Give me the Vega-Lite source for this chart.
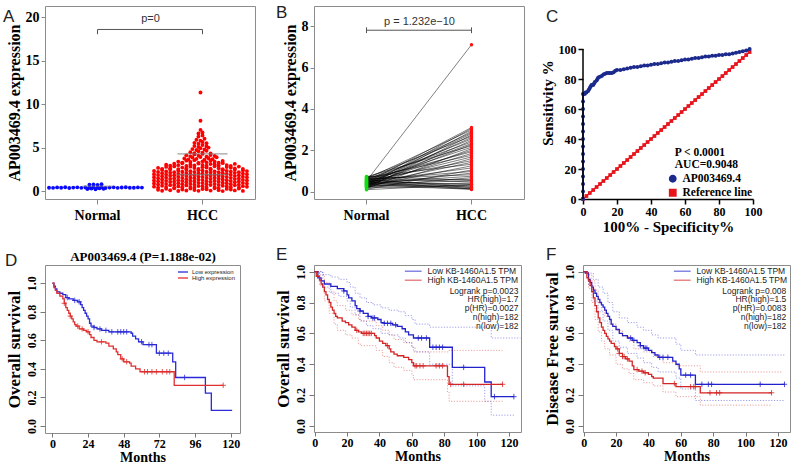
{
"$schema":"https://vega.github.io/schema/vega-lite/v6.json",
"background":"white",
"padding":{"left":2,"top":3,"right":0,"bottom":0},
"bounds":"flush",
"columns":3,
"spacing":{"row":66,"column":59},
"config":{"font":"Liberation Serif","axis":{"grid":false,"labelColor":"#000","titleColor":"#000","labelOverlap":false},"view":{"stroke":"#8c8c8c"}},
"resolve":{"scale":{"color":"independent","shape":"independent"}},
"datasets":{
"a":[
{"g":"Normal","v":0.25},{"g":"Normal","v":0.31},{"g":"Normal","v":0.22},{"g":"Normal","v":0.34},{"g":"Normal","v":0.28},
{"g":"Normal","v":0.40},{"g":"Normal","v":0.38},{"g":"Normal","v":0.43},{"g":"Normal","v":0.39},{"g":"Normal","v":0.45},{"g":"Normal","v":0.37},{"g":"Normal","v":0.41},{"g":"Normal","v":0.44},{"g":"Normal","v":0.38},{"g":"Normal","v":0.42},{"g":"Normal","v":0.40},{"g":"Normal","v":0.46},{"g":"Normal","v":0.39},{"g":"Normal","v":0.43},{"g":"Normal","v":0.37},{"g":"Normal","v":0.41},{"g":"Normal","v":0.44},{"g":"Normal","v":0.38},{"g":"Normal","v":0.42},{"g":"Normal","v":0.45},{"g":"Normal","v":0.40},{"g":"Normal","v":0.39},{"g":"Normal","v":0.43},{"g":"Normal","v":0.41},
{"g":"Normal","v":0.75},{"g":"Normal","v":0.78},{"g":"Normal","v":0.73},{"g":"Normal","v":0.80},
{"g":"HCC","v":0.16},{"g":"HCC","v":0.05},{"g":"HCC","v":0.27},{"g":"HCC","v":0.11},{"g":"HCC","v":0.33},{"g":"HCC","v":0.02},{"g":"HCC","v":0.19},{"g":"HCC","v":0.08},{"g":"HCC","v":0.30},{"g":"HCC","v":0.14},{"g":"HCC","v":0.04},{"g":"HCC","v":0.24},{"g":"HCC","v":0.21},{"g":"HCC","v":0.07},{"g":"HCC","v":0.34},{"g":"HCC","v":0.12},{"g":"HCC","v":0.01},{"g":"HCC","v":0.26},{"g":"HCC","v":0.18},{"g":"HCC","v":0.09},{"g":"HCC","v":0.31},{"g":"HCC","v":0.03},
{"g":"HCC","v":0.52},{"g":"HCC","v":0.41},{"g":"HCC","v":0.63},{"g":"HCC","v":0.47},{"g":"HCC","v":0.69},{"g":"HCC","v":0.38},{"g":"HCC","v":0.55},{"g":"HCC","v":0.44},{"g":"HCC","v":0.66},{"g":"HCC","v":0.50},{"g":"HCC","v":0.40},{"g":"HCC","v":0.60},{"g":"HCC","v":0.57},{"g":"HCC","v":0.43},{"g":"HCC","v":0.70},{"g":"HCC","v":0.48},{"g":"HCC","v":0.37},{"g":"HCC","v":0.62},{"g":"HCC","v":0.54},{"g":"HCC","v":0.45},{"g":"HCC","v":0.67},{"g":"HCC","v":0.39},{"g":"HCC","v":0.58},{"g":"HCC","v":0.51},
{"g":"HCC","v":0.88},{"g":"HCC","v":0.77},{"g":"HCC","v":0.99},{"g":"HCC","v":0.83},{"g":"HCC","v":1.05},{"g":"HCC","v":0.74},{"g":"HCC","v":0.91},{"g":"HCC","v":0.80},{"g":"HCC","v":1.02},{"g":"HCC","v":0.86},{"g":"HCC","v":0.76},{"g":"HCC","v":0.96},{"g":"HCC","v":0.93},{"g":"HCC","v":0.79},{"g":"HCC","v":1.06},{"g":"HCC","v":0.84},{"g":"HCC","v":0.73},{"g":"HCC","v":0.98},{"g":"HCC","v":0.90},{"g":"HCC","v":0.81},{"g":"HCC","v":1.03},{"g":"HCC","v":0.75},{"g":"HCC","v":0.94},{"g":"HCC","v":0.87},
{"g":"HCC","v":1.24},{"g":"HCC","v":1.13},{"g":"HCC","v":1.35},{"g":"HCC","v":1.19},{"g":"HCC","v":1.41},{"g":"HCC","v":1.10},{"g":"HCC","v":1.27},{"g":"HCC","v":1.16},{"g":"HCC","v":1.38},{"g":"HCC","v":1.22},{"g":"HCC","v":1.12},{"g":"HCC","v":1.32},{"g":"HCC","v":1.29},{"g":"HCC","v":1.15},{"g":"HCC","v":1.42},{"g":"HCC","v":1.20},{"g":"HCC","v":1.09},{"g":"HCC","v":1.34},{"g":"HCC","v":1.26},{"g":"HCC","v":1.17},{"g":"HCC","v":1.39},{"g":"HCC","v":1.11},{"g":"HCC","v":1.30},{"g":"HCC","v":1.23},
{"g":"HCC","v":1.60},{"g":"HCC","v":1.49},{"g":"HCC","v":1.71},{"g":"HCC","v":1.55},{"g":"HCC","v":1.77},{"g":"HCC","v":1.46},{"g":"HCC","v":1.63},{"g":"HCC","v":1.52},{"g":"HCC","v":1.74},{"g":"HCC","v":1.58},{"g":"HCC","v":1.48},{"g":"HCC","v":1.68},{"g":"HCC","v":1.65},{"g":"HCC","v":1.51},{"g":"HCC","v":1.78},{"g":"HCC","v":1.56},{"g":"HCC","v":1.45},{"g":"HCC","v":1.70},{"g":"HCC","v":1.62},{"g":"HCC","v":1.53},{"g":"HCC","v":1.75},{"g":"HCC","v":1.47},{"g":"HCC","v":1.66},{"g":"HCC","v":1.59},
{"g":"HCC","v":1.96},{"g":"HCC","v":1.85},{"g":"HCC","v":2.07},{"g":"HCC","v":1.91},{"g":"HCC","v":2.13},{"g":"HCC","v":1.82},{"g":"HCC","v":1.99},{"g":"HCC","v":1.88},{"g":"HCC","v":2.10},{"g":"HCC","v":1.94},{"g":"HCC","v":1.84},{"g":"HCC","v":2.04},{"g":"HCC","v":2.01},{"g":"HCC","v":1.87},{"g":"HCC","v":2.14},{"g":"HCC","v":1.92},{"g":"HCC","v":1.81},{"g":"HCC","v":2.06},{"g":"HCC","v":1.98},{"g":"HCC","v":1.89},{"g":"HCC","v":2.11},{"g":"HCC","v":1.83},{"g":"HCC","v":2.02},{"g":"HCC","v":1.95},
{"g":"HCC","v":2.32},{"g":"HCC","v":2.21},{"g":"HCC","v":2.43},{"g":"HCC","v":2.27},{"g":"HCC","v":2.49},{"g":"HCC","v":2.18},{"g":"HCC","v":2.35},{"g":"HCC","v":2.24},{"g":"HCC","v":2.46},{"g":"HCC","v":2.30},{"g":"HCC","v":2.20},{"g":"HCC","v":2.40},{"g":"HCC","v":2.37},{"g":"HCC","v":2.23},{"g":"HCC","v":2.50},{"g":"HCC","v":2.28},{"g":"HCC","v":2.17},{"g":"HCC","v":2.42},{"g":"HCC","v":2.34},{"g":"HCC","v":2.25},{"g":"HCC","v":2.47},{"g":"HCC","v":2.19},{"g":"HCC","v":2.38},{"g":"HCC","v":2.31},
{"g":"HCC","v":2.68},{"g":"HCC","v":2.57},{"g":"HCC","v":2.79},{"g":"HCC","v":2.63},{"g":"HCC","v":2.85},{"g":"HCC","v":2.54},{"g":"HCC","v":2.71},{"g":"HCC","v":2.60},{"g":"HCC","v":2.82},{"g":"HCC","v":2.66},{"g":"HCC","v":2.56},{"g":"HCC","v":2.76},{"g":"HCC","v":2.73},{"g":"HCC","v":2.59},{"g":"HCC","v":2.86},{"g":"HCC","v":2.64},{"g":"HCC","v":2.53},{"g":"HCC","v":2.78},{"g":"HCC","v":2.70},{"g":"HCC","v":2.61},{"g":"HCC","v":2.83},{"g":"HCC","v":2.55},
{"g":"HCC","v":3.04},{"g":"HCC","v":2.93},{"g":"HCC","v":3.15},{"g":"HCC","v":2.99},{"g":"HCC","v":3.21},{"g":"HCC","v":2.90},{"g":"HCC","v":3.07},{"g":"HCC","v":2.96},{"g":"HCC","v":3.18},{"g":"HCC","v":3.02},{"g":"HCC","v":2.92},{"g":"HCC","v":3.12},{"g":"HCC","v":3.09},{"g":"HCC","v":2.95},{"g":"HCC","v":3.22},{"g":"HCC","v":3.00},{"g":"HCC","v":2.89},{"g":"HCC","v":3.14},
{"g":"HCC","v":3.40},{"g":"HCC","v":3.29},{"g":"HCC","v":3.51},{"g":"HCC","v":3.35},{"g":"HCC","v":3.57},{"g":"HCC","v":3.26},{"g":"HCC","v":3.43},{"g":"HCC","v":3.32},{"g":"HCC","v":3.54},{"g":"HCC","v":3.38},{"g":"HCC","v":3.28},{"g":"HCC","v":3.48},
{"g":"HCC","v":3.76},{"g":"HCC","v":3.65},{"g":"HCC","v":3.87},{"g":"HCC","v":3.71},{"g":"HCC","v":3.93},{"g":"HCC","v":3.62},{"g":"HCC","v":3.79},{"g":"HCC","v":3.68},{"g":"HCC","v":3.90},
{"g":"HCC","v":4.12},{"g":"HCC","v":4.01},{"g":"HCC","v":4.23},{"g":"HCC","v":4.07},{"g":"HCC","v":4.29},{"g":"HCC","v":3.98},{"g":"HCC","v":4.15},{"g":"HCC","v":4.04},
{"g":"HCC","v":4.48},{"g":"HCC","v":4.37},{"g":"HCC","v":4.59},{"g":"HCC","v":4.43},{"g":"HCC","v":4.65},{"g":"HCC","v":4.34},
{"g":"HCC","v":4.84},{"g":"HCC","v":4.73},{"g":"HCC","v":4.95},{"g":"HCC","v":4.79},{"g":"HCC","v":5.01},
{"g":"HCC","v":5.20},{"g":"HCC","v":5.09},{"g":"HCC","v":5.31},{"g":"HCC","v":5.15},
{"g":"HCC","v":5.56},{"g":"HCC","v":5.45},{"g":"HCC","v":5.67},{"g":"HCC","v":5.51},
{"g":"HCC","v":5.92},{"g":"HCC","v":5.81},{"g":"HCC","v":6.03},
{"g":"HCC","v":6.28},{"g":"HCC","v":6.40},{"g":"HCC","v":6.64},{"g":"HCC","v":6.75},{"g":"HCC","v":7.05},{"g":"HCC","v":8.10},{"g":"HCC","v":11.35}
],
"aStat":[{"g":"Normal","m":0.57},{"g":"HCC","m":4.3},{"g":"HCC","m":1.9}],
"b":[
{"id":1,"g":"Normal","v":0.52},{"id":1,"g":"HCC","v":7.10},
{"id":2,"g":"Normal","v":0.45},{"id":2,"g":"HCC","v":3.10},
{"id":3,"g":"Normal","v":0.30},{"id":3,"g":"HCC","v":3.05},
{"id":4,"g":"Normal","v":0.62},{"id":4,"g":"HCC","v":2.98},
{"id":5,"g":"Normal","v":0.25},{"id":5,"g":"HCC","v":2.92},
{"id":6,"g":"Normal","v":0.55},{"id":6,"g":"HCC","v":2.85},
{"id":7,"g":"Normal","v":0.40},{"id":7,"g":"HCC","v":2.80},
{"id":8,"g":"Normal","v":0.18},{"id":8,"g":"HCC","v":2.74},
{"id":9,"g":"Normal","v":0.68},{"id":9,"g":"HCC","v":2.68},
{"id":10,"g":"Normal","v":0.35},{"id":10,"g":"HCC","v":2.62},
{"id":11,"g":"Normal","v":0.50},{"id":11,"g":"HCC","v":2.55},
{"id":12,"g":"Normal","v":0.22},{"id":12,"g":"HCC","v":2.48},
{"id":13,"g":"Normal","v":0.60},{"id":13,"g":"HCC","v":2.40},
{"id":14,"g":"Normal","v":0.42},{"id":14,"g":"HCC","v":2.33},
{"id":15,"g":"Normal","v":0.28},{"id":15,"g":"HCC","v":2.28},
{"id":16,"g":"Normal","v":0.72},{"id":16,"g":"HCC","v":2.22},
{"id":17,"g":"Normal","v":0.48},{"id":17,"g":"HCC","v":2.15},
{"id":18,"g":"Normal","v":0.15},{"id":18,"g":"HCC","v":2.08},
{"id":19,"g":"Normal","v":0.38},{"id":19,"g":"HCC","v":2.00},
{"id":20,"g":"Normal","v":0.58},{"id":20,"g":"HCC","v":1.93},
{"id":21,"g":"Normal","v":0.32},{"id":21,"g":"HCC","v":1.85},
{"id":22,"g":"Normal","v":0.65},{"id":22,"g":"HCC","v":1.76},
{"id":23,"g":"Normal","v":0.44},{"id":23,"g":"HCC","v":1.68},
{"id":24,"g":"Normal","v":0.20},{"id":24,"g":"HCC","v":1.60},
{"id":25,"g":"Normal","v":0.53},{"id":25,"g":"HCC","v":1.50},
{"id":26,"g":"Normal","v":0.36},{"id":26,"g":"HCC","v":1.42},
{"id":27,"g":"Normal","v":0.70},{"id":27,"g":"HCC","v":1.33},
{"id":28,"g":"Normal","v":0.27},{"id":28,"g":"HCC","v":1.25},
{"id":29,"g":"Normal","v":0.47},{"id":29,"g":"HCC","v":1.15},
{"id":30,"g":"Normal","v":0.12},{"id":30,"g":"HCC","v":1.05},
{"id":31,"g":"Normal","v":0.57},{"id":31,"g":"HCC","v":0.98},
{"id":32,"g":"Normal","v":0.33},{"id":32,"g":"HCC","v":0.90},
{"id":33,"g":"Normal","v":0.63},{"id":33,"g":"HCC","v":0.82},
{"id":34,"g":"Normal","v":0.41},{"id":34,"g":"HCC","v":0.75},
{"id":35,"g":"Normal","v":0.24},{"id":35,"g":"HCC","v":0.68},
{"id":36,"g":"Normal","v":0.51},{"id":36,"g":"HCC","v":0.60},
{"id":37,"g":"Normal","v":0.38},{"id":37,"g":"HCC","v":0.53},
{"id":38,"g":"Normal","v":0.66},{"id":38,"g":"HCC","v":0.47},
{"id":39,"g":"Normal","v":0.29},{"id":39,"g":"HCC","v":0.42},
{"id":40,"g":"Normal","v":0.46},{"id":40,"g":"HCC","v":0.37},
{"id":41,"g":"Normal","v":0.19},{"id":41,"g":"HCC","v":0.33},
{"id":42,"g":"Normal","v":0.56},{"id":42,"g":"HCC","v":0.28},
{"id":43,"g":"Normal","v":0.34},{"id":43,"g":"HCC","v":0.24},
{"id":44,"g":"Normal","v":0.60},{"id":44,"g":"HCC","v":0.20},
{"id":45,"g":"Normal","v":0.43},{"id":45,"g":"HCC","v":0.17},
{"id":46,"g":"Normal","v":0.26},{"id":46,"g":"HCC","v":0.15},
{"id":47,"g":"Normal","v":0.50},{"id":47,"g":"HCC","v":0.13},
{"id":48,"g":"Normal","v":0.37},{"id":48,"g":"HCC","v":0.11},
{"id":49,"g":"Normal","v":0.10},{"id":49,"g":"HCC","v":0.35},
{"id":50,"g":"Normal","v":0.74},{"id":50,"g":"HCC","v":0.55}
],
"croc":[
{"s":"AP003469.4","x":0,"y":0},{"s":"AP003469.4","x":0,"y":5},{"s":"AP003469.4","x":0,"y":10},{"s":"AP003469.4","x":0,"y":15},{"s":"AP003469.4","x":0,"y":20},{"s":"AP003469.4","x":0,"y":25},{"s":"AP003469.4","x":0,"y":30},{"s":"AP003469.4","x":0,"y":35},{"s":"AP003469.4","x":0,"y":40},{"s":"AP003469.4","x":0,"y":45},{"s":"AP003469.4","x":0,"y":50},{"s":"AP003469.4","x":0,"y":55},{"s":"AP003469.4","x":0,"y":60},{"s":"AP003469.4","x":0,"y":65},{"s":"AP003469.4","x":0,"y":70},
{"s":"AP003469.4","x":1,"y":70},{"s":"AP003469.4","x":1.5,"y":71},{"s":"AP003469.4","x":2,"y":71},{"s":"AP003469.4","x":3,"y":72},{"s":"AP003469.4","x":3.5,"y":73},{"s":"AP003469.4","x":4,"y":74},{"s":"AP003469.4","x":4.5,"y":75},{"s":"AP003469.4","x":5,"y":76},{"s":"AP003469.4","x":6,"y":76},{"s":"AP003469.4","x":6.5,"y":77},{"s":"AP003469.4","x":7,"y":78},{"s":"AP003469.4","x":8,"y":79},{"s":"AP003469.4","x":8.5,"y":80},{"s":"AP003469.4","x":9,"y":81},{"s":"AP003469.4","x":10,"y":81.5},{"s":"AP003469.4","x":11,"y":82},{"s":"AP003469.4","x":12,"y":83},{"s":"AP003469.4","x":13,"y":83.5},{"s":"AP003469.4","x":14,"y":84},{"s":"AP003469.4","x":15,"y":84},{"s":"AP003469.4","x":16,"y":84},{"s":"AP003469.4","x":17,"y":84},{"s":"AP003469.4","x":18,"y":84.5},{"s":"AP003469.4","x":19,"y":85.5},{"s":"AP003469.4","x":20,"y":86},{"s":"AP003469.4","x":22,"y":86},{"s":"AP003469.4","x":24,"y":86.5},{"s":"AP003469.4","x":26,"y":87},{"s":"AP003469.4","x":28,"y":87.5},{"s":"AP003469.4","x":30,"y":88},{"s":"AP003469.4","x":32,"y":88},{"s":"AP003469.4","x":34,"y":88.5},{"s":"AP003469.4","x":36,"y":89},{"s":"AP003469.4","x":38,"y":89},{"s":"AP003469.4","x":40,"y":89.5},{"s":"AP003469.4","x":42,"y":90},{"s":"AP003469.4","x":44,"y":90},{"s":"AP003469.4","x":46,"y":90.5},{"s":"AP003469.4","x":48,"y":91},{"s":"AP003469.4","x":50,"y":91},{"s":"AP003469.4","x":52,"y":91.5},{"s":"AP003469.4","x":54,"y":92},{"s":"AP003469.4","x":56,"y":92},{"s":"AP003469.4","x":58,"y":92.5},{"s":"AP003469.4","x":60,"y":93},{"s":"AP003469.4","x":62,"y":93},{"s":"AP003469.4","x":64,"y":93.5},{"s":"AP003469.4","x":66,"y":94},{"s":"AP003469.4","x":68,"y":94},{"s":"AP003469.4","x":70,"y":94.5},{"s":"AP003469.4","x":72,"y":95},{"s":"AP003469.4","x":74,"y":95},{"s":"AP003469.4","x":76,"y":95.5},{"s":"AP003469.4","x":78,"y":95.5},{"s":"AP003469.4","x":80,"y":96},{"s":"AP003469.4","x":82,"y":96},{"s":"AP003469.4","x":84,"y":96.5},{"s":"AP003469.4","x":86,"y":96.5},{"s":"AP003469.4","x":88,"y":97},{"s":"AP003469.4","x":90,"y":97.5},{"s":"AP003469.4","x":92,"y":98},{"s":"AP003469.4","x":94,"y":98.5},{"s":"AP003469.4","x":96,"y":99},{"s":"AP003469.4","x":98,"y":100}
],
"cref":[
{"s":"Reference line","x":0,"y":0},{"s":"Reference line","x":2,"y":2},{"s":"Reference line","x":4,"y":4},{"s":"Reference line","x":6,"y":6},{"s":"Reference line","x":8,"y":8},{"s":"Reference line","x":10,"y":10},{"s":"Reference line","x":12,"y":12},{"s":"Reference line","x":14,"y":14},{"s":"Reference line","x":16,"y":16},{"s":"Reference line","x":18,"y":18},{"s":"Reference line","x":20,"y":20},{"s":"Reference line","x":22,"y":22},{"s":"Reference line","x":24,"y":24},{"s":"Reference line","x":26,"y":26},{"s":"Reference line","x":28,"y":28},{"s":"Reference line","x":30,"y":30},{"s":"Reference line","x":32,"y":32},{"s":"Reference line","x":34,"y":34},{"s":"Reference line","x":36,"y":36},{"s":"Reference line","x":38,"y":38},{"s":"Reference line","x":40,"y":40},{"s":"Reference line","x":42,"y":42},{"s":"Reference line","x":44,"y":44},{"s":"Reference line","x":46,"y":46},{"s":"Reference line","x":48,"y":48},{"s":"Reference line","x":50,"y":50},{"s":"Reference line","x":52,"y":52},{"s":"Reference line","x":54,"y":54},{"s":"Reference line","x":56,"y":56},{"s":"Reference line","x":58,"y":58},{"s":"Reference line","x":60,"y":60},{"s":"Reference line","x":62,"y":62},{"s":"Reference line","x":64,"y":64},{"s":"Reference line","x":66,"y":66},{"s":"Reference line","x":68,"y":68},{"s":"Reference line","x":70,"y":70},{"s":"Reference line","x":72,"y":72},{"s":"Reference line","x":74,"y":74},{"s":"Reference line","x":76,"y":76},{"s":"Reference line","x":78,"y":78},{"s":"Reference line","x":80,"y":80},{"s":"Reference line","x":82,"y":82},{"s":"Reference line","x":84,"y":84},{"s":"Reference line","x":86,"y":86},{"s":"Reference line","x":88,"y":88},{"s":"Reference line","x":90,"y":90},{"s":"Reference line","x":92,"y":92},{"s":"Reference line","x":94,"y":94},{"s":"Reference line","x":96,"y":96},{"s":"Reference line","x":98,"y":98}
],
"d":[
{"g":"Low","t":0,"s":1},{"g":"Low","t":1,"s":0.98},{"g":"Low","t":2,"s":0.96},{"g":"Low","t":3,"s":0.94},{"g":"Low","t":5,"s":0.93},{"g":"Low","t":7,"s":0.92},{"g":"Low","t":9,"s":0.90},{"g":"Low","t":11,"s":0.89},{"g":"Low","t":14,"s":0.88},{"g":"Low","t":17,"s":0.87},{"g":"Low","t":19,"s":0.85},{"g":"Low","t":20,"s":0.83},{"g":"Low","t":21,"s":0.81},{"g":"Low","t":22,"s":0.79},{"g":"Low","t":23,"s":0.77},{"g":"Low","t":24,"s":0.75},{"g":"Low","t":25,"s":0.72},{"g":"Low","t":26,"s":0.70},{"g":"Low","t":28,"s":0.69},{"g":"Low","t":30,"s":0.68},{"g":"Low","t":33,"s":0.67},{"g":"Low","t":38,"s":0.66},{"g":"Low","t":53,"s":0.65},{"g":"Low","t":54,"s":0.63},{"g":"Low","t":56,"s":0.61},{"g":"Low","t":58,"s":0.59},{"g":"Low","t":61,"s":0.57},{"g":"Low","t":70,"s":0.51},{"g":"Low","t":81,"s":0.45},{"g":"Low","t":83,"s":0.34},{"g":"Low","t":103,"s":0.23},{"g":"Low","t":107,"s":0.11},{"g":"Low","t":121,"s":0.11},
{"g":"High","t":0,"s":1},{"g":"High","t":1,"s":0.97},{"g":"High","t":2,"s":0.95},{"g":"High","t":3,"s":0.93},{"g":"High","t":5,"s":0.91},{"g":"High","t":7,"s":0.89},{"g":"High","t":8,"s":0.86},{"g":"High","t":9,"s":0.83},{"g":"High","t":10,"s":0.81},{"g":"High","t":11,"s":0.79},{"g":"High","t":12,"s":0.77},{"g":"High","t":13,"s":0.75},{"g":"High","t":14,"s":0.73},{"g":"High","t":15,"s":0.71},{"g":"High","t":16,"s":0.70},{"g":"High","t":18,"s":0.68},{"g":"High","t":21,"s":0.67},{"g":"High","t":23,"s":0.66},{"g":"High","t":25,"s":0.64},{"g":"High","t":26,"s":0.62},{"g":"High","t":28,"s":0.60},{"g":"High","t":30,"s":0.59},{"g":"High","t":36,"s":0.58},{"g":"High","t":38,"s":0.56},{"g":"High","t":41,"s":0.54},{"g":"High","t":43,"s":0.52},{"g":"High","t":44,"s":0.50},{"g":"High","t":46,"s":0.47},{"g":"High","t":48,"s":0.45},{"g":"High","t":52,"s":0.44},{"g":"High","t":53,"s":0.42},{"g":"High","t":56,"s":0.40},{"g":"High","t":59,"s":0.38},{"g":"High","t":82,"s":0.285},{"g":"High","t":115,"s":0.285}
],
"dc":[
{"g":"Low","t":10,"s":0.90},{"g":"Low","t":15,"s":0.88},{"g":"Low","t":18,"s":0.87},{"g":"Low","t":28,"s":0.69},{"g":"Low","t":32,"s":0.68},{"g":"Low","t":36,"s":0.67},{"g":"Low","t":40,"s":0.66},{"g":"Low","t":44,"s":0.66},{"g":"Low","t":46,"s":0.66},{"g":"Low","t":48,"s":0.66},{"g":"Low","t":50,"s":0.66},{"g":"Low","t":60,"s":0.59},{"g":"Low","t":65,"s":0.57},{"g":"Low","t":67,"s":0.57},{"g":"Low","t":72,"s":0.51},{"g":"Low","t":75,"s":0.51},{"g":"Low","t":78,"s":0.51},{"g":"Low","t":89,"s":0.34},
{"g":"High","t":8,"s":0.86},{"g":"High","t":12,"s":0.77},{"g":"High","t":17,"s":0.70},{"g":"High","t":20,"s":0.68},{"g":"High","t":24,"s":0.66},{"g":"High","t":33,"s":0.59},{"g":"High","t":47,"s":0.47},{"g":"High","t":50,"s":0.45},{"g":"High","t":62,"s":0.38},{"g":"High","t":64,"s":0.38},{"g":"High","t":67,"s":0.38},{"g":"High","t":70,"s":0.38},{"g":"High","t":74,"s":0.38},{"g":"High","t":77,"s":0.38},{"g":"High","t":79,"s":0.38},{"g":"High","t":115,"s":0.285}
],
"e":[
{"g":"Low","t":0,"s":1},{"g":"Low","t":2,"s":0.96},{"g":"Low","t":4,"s":0.94},{"g":"Low","t":6,"s":0.92},{"g":"Low","t":10,"s":0.905},{"g":"Low","t":14,"s":0.89},{"g":"Low","t":18,"s":0.875},{"g":"Low","t":20,"s":0.85},{"g":"Low","t":21,"s":0.83},{"g":"Low","t":23,"s":0.81},{"g":"Low","t":25,"s":0.78},{"g":"Low","t":26,"s":0.76},{"g":"Low","t":28,"s":0.745},{"g":"Low","t":30,"s":0.73},{"g":"Low","t":33,"s":0.71},{"g":"Low","t":35,"s":0.70},{"g":"Low","t":39,"s":0.69},{"g":"Low","t":41,"s":0.67},{"g":"Low","t":43,"s":0.665},{"g":"Low","t":48,"s":0.655},{"g":"Low","t":51,"s":0.645},{"g":"Low","t":54,"s":0.63},{"g":"Low","t":56,"s":0.61},{"g":"Low","t":58,"s":0.59},{"g":"Low","t":61,"s":0.57},{"g":"Low","t":71,"s":0.51},{"g":"Low","t":85,"s":0.38},{"g":"Low","t":105,"s":0.285},{"g":"Low","t":109,"s":0.19},{"g":"Low","t":123,"s":0.19},
{"g":"High","t":0,"s":1},{"g":"High","t":1,"s":0.97},{"g":"High","t":3,"s":0.945},{"g":"High","t":4,"s":0.92},{"g":"High","t":5,"s":0.90},{"g":"High","t":6,"s":0.87},{"g":"High","t":7,"s":0.85},{"g":"High","t":8,"s":0.82},{"g":"High","t":9,"s":0.80},{"g":"High","t":10,"s":0.77},{"g":"High","t":11,"s":0.75},{"g":"High","t":12,"s":0.73},{"g":"High","t":13,"s":0.71},{"g":"High","t":14,"s":0.70},{"g":"High","t":17,"s":0.68},{"g":"High","t":19,"s":0.67},{"g":"High","t":21,"s":0.655},{"g":"High","t":23,"s":0.64},{"g":"High","t":25,"s":0.62},{"g":"High","t":27,"s":0.61},{"g":"High","t":29,"s":0.60},{"g":"High","t":37,"s":0.585},{"g":"High","t":38,"s":0.57},{"g":"High","t":40,"s":0.55},{"g":"High","t":42,"s":0.535},{"g":"High","t":44,"s":0.52},{"g":"High","t":46,"s":0.50},{"g":"High","t":47,"s":0.48},{"g":"High","t":49,"s":0.465},{"g":"High","t":51,"s":0.455},{"g":"High","t":55,"s":0.445},{"g":"High","t":58,"s":0.43},{"g":"High","t":60,"s":0.41},{"g":"High","t":61,"s":0.39},{"g":"High","t":82,"s":0.32},{"g":"High","t":83,"s":0.27},{"g":"High","t":116,"s":0.27}
],
"eci":[
{"g":"Low","b":"u","t":0,"s":1},{"g":"Low","b":"u","t":5,"s":0.98},{"g":"Low","b":"u","t":10,"s":0.965},{"g":"Low","b":"u","t":15,"s":0.95},{"g":"Low","b":"u","t":20,"s":0.93},{"g":"Low","b":"u","t":22,"s":0.90},{"g":"Low","b":"u","t":25,"s":0.86},{"g":"Low","b":"u","t":28,"s":0.83},{"g":"Low","b":"u","t":32,"s":0.80},{"g":"Low","b":"u","t":36,"s":0.785},{"g":"Low","b":"u","t":41,"s":0.765},{"g":"Low","b":"u","t":46,"s":0.75},{"g":"Low","b":"u","t":52,"s":0.74},{"g":"Low","b":"u","t":56,"s":0.715},{"g":"Low","b":"u","t":60,"s":0.69},{"g":"Low","b":"u","t":62,"s":0.66},{"g":"Low","b":"u","t":71,"s":0.64},{"g":"Low","b":"u","t":109,"s":0.57},{"g":"Low","b":"u","t":127,"s":0.57},
{"g":"Low","b":"l","t":0,"s":1},{"g":"Low","b":"l","t":5,"s":0.90},{"g":"Low","b":"l","t":10,"s":0.86},{"g":"Low","b":"l","t":15,"s":0.84},{"g":"Low","b":"l","t":20,"s":0.81},{"g":"Low","b":"l","t":22,"s":0.77},{"g":"Low","b":"l","t":25,"s":0.72},{"g":"Low","b":"l","t":28,"s":0.68},{"g":"Low","b":"l","t":32,"s":0.65},{"g":"Low","b":"l","t":36,"s":0.63},{"g":"Low","b":"l","t":41,"s":0.60},{"g":"Low","b":"l","t":46,"s":0.59},{"g":"Low","b":"l","t":52,"s":0.57},{"g":"Low","b":"l","t":56,"s":0.54},{"g":"Low","b":"l","t":60,"s":0.51},{"g":"Low","b":"l","t":62,"s":0.48},{"g":"Low","b":"l","t":71,"s":0.40},{"g":"Low","b":"l","t":85,"s":0.26},{"g":"Low","b":"l","t":105,"s":0.16},{"g":"Low","b":"l","t":109,"s":0.07},{"g":"Low","b":"l","t":123,"s":0.07},
{"g":"High","b":"u","t":0,"s":1},{"g":"High","b":"u","t":3,"s":0.98},{"g":"High","b":"u","t":6,"s":0.93},{"g":"High","b":"u","t":9,"s":0.87},{"g":"High","b":"u","t":12,"s":0.81},{"g":"High","b":"u","t":14,"s":0.78},{"g":"High","b":"u","t":19,"s":0.75},{"g":"High","b":"u","t":23,"s":0.72},{"g":"High","b":"u","t":27,"s":0.69},{"g":"High","b":"u","t":29,"s":0.68},{"g":"High","b":"u","t":38,"s":0.65},{"g":"High","b":"u","t":42,"s":0.62},{"g":"High","b":"u","t":46,"s":0.59},{"g":"High","b":"u","t":49,"s":0.56},{"g":"High","b":"u","t":55,"s":0.54},{"g":"High","b":"u","t":60,"s":0.51},{"g":"High","b":"u","t":61,"s":0.48},{"g":"High","b":"u","t":83,"s":0.49},{"g":"High","b":"u","t":116,"s":0.49},
{"g":"High","b":"l","t":0,"s":1},{"g":"High","b":"l","t":3,"s":0.91},{"g":"High","b":"l","t":6,"s":0.81},{"g":"High","b":"l","t":9,"s":0.73},{"g":"High","b":"l","t":12,"s":0.66},{"g":"High","b":"l","t":14,"s":0.62},{"g":"High","b":"l","t":19,"s":0.59},{"g":"High","b":"l","t":23,"s":0.57},{"g":"High","b":"l","t":27,"s":0.53},{"g":"High","b":"l","t":29,"s":0.52},{"g":"High","b":"l","t":38,"s":0.49},{"g":"High","b":"l","t":42,"s":0.45},{"g":"High","b":"l","t":46,"s":0.41},{"g":"High","b":"l","t":49,"s":0.38},{"g":"High","b":"l","t":55,"s":0.36},{"g":"High","b":"l","t":60,"s":0.33},{"g":"High","b":"l","t":61,"s":0.30},{"g":"High","b":"l","t":82,"s":0.22},{"g":"High","b":"l","t":83,"s":0.16},{"g":"High","b":"l","t":116,"s":0.16}
],
"ec":[
{"g":"Low","t":18,"s":0.875},{"g":"Low","t":28,"s":0.745},{"g":"Low","t":33,"s":0.71},{"g":"Low","t":36,"s":0.70},{"g":"Low","t":37,"s":0.70},{"g":"Low","t":43,"s":0.665},{"g":"Low","t":45,"s":0.665},{"g":"Low","t":47,"s":0.665},{"g":"Low","t":50,"s":0.655},{"g":"Low","t":64,"s":0.57},{"g":"Low","t":66,"s":0.57},{"g":"Low","t":69,"s":0.57},{"g":"Low","t":73,"s":0.51},{"g":"Low","t":75,"s":0.51},{"g":"Low","t":77,"s":0.51},{"g":"Low","t":79,"s":0.51},{"g":"Low","t":92,"s":0.38},{"g":"Low","t":111,"s":0.19},{"g":"Low","t":123,"s":0.19},
{"g":"High","t":26,"s":0.62},{"g":"High","t":30,"s":0.60},{"g":"High","t":31,"s":0.60},{"g":"High","t":32,"s":0.60},{"g":"High","t":33,"s":0.60},{"g":"High","t":34,"s":0.60},{"g":"High","t":35,"s":0.60},{"g":"High","t":45,"s":0.52},{"g":"High","t":62,"s":0.39},{"g":"High","t":63,"s":0.39},{"g":"High","t":65,"s":0.39},{"g":"High","t":67,"s":0.39},{"g":"High","t":75,"s":0.39},{"g":"High","t":77,"s":0.39},{"g":"High","t":79,"s":0.39},{"g":"High","t":84,"s":0.27},{"g":"High","t":92,"s":0.27},{"g":"High","t":116,"s":0.27}
],
"f":[
{"g":"Low","t":0,"s":1},{"g":"Low","t":1,"s":0.99},{"g":"Low","t":3,"s":0.95},{"g":"Low","t":4,"s":0.93},{"g":"Low","t":5,"s":0.90},{"g":"Low","t":6,"s":0.88},{"g":"Low","t":7,"s":0.86},{"g":"Low","t":8,"s":0.84},{"g":"Low","t":9,"s":0.82},{"g":"Low","t":10,"s":0.80},{"g":"Low","t":11,"s":0.785},{"g":"Low","t":12,"s":0.77},{"g":"Low","t":13,"s":0.75},{"g":"Low","t":14,"s":0.73},{"g":"Low","t":15,"s":0.71},{"g":"Low","t":16,"s":0.69},{"g":"Low","t":17,"s":0.66},{"g":"Low","t":18,"s":0.645},{"g":"Low","t":20,"s":0.625},{"g":"Low","t":22,"s":0.60},{"g":"Low","t":24,"s":0.585},{"g":"Low","t":27,"s":0.57},{"g":"Low","t":30,"s":0.555},{"g":"Low","t":33,"s":0.54},{"g":"Low","t":35,"s":0.52},{"g":"Low","t":37,"s":0.505},{"g":"Low","t":40,"s":0.49},{"g":"Low","t":42,"s":0.475},{"g":"Low","t":44,"s":0.46},{"g":"Low","t":46,"s":0.445},{"g":"Low","t":55,"s":0.42},{"g":"Low","t":57,"s":0.40},{"g":"Low","t":59,"s":0.37},{"g":"Low","t":60,"s":0.33},{"g":"Low","t":69,"s":0.27},{"g":"Low","t":124,"s":0.27},
{"g":"High","t":0,"s":1},{"g":"High","t":2,"s":0.96},{"g":"High","t":3,"s":0.94},{"g":"High","t":4,"s":0.91},{"g":"High","t":5,"s":0.87},{"g":"High","t":6,"s":0.83},{"g":"High","t":7,"s":0.78},{"g":"High","t":8,"s":0.74},{"g":"High","t":9,"s":0.70},{"g":"High","t":10,"s":0.67},{"g":"High","t":11,"s":0.64},{"g":"High","t":12,"s":0.62},{"g":"High","t":13,"s":0.60},{"g":"High","t":14,"s":0.58},{"g":"High","t":15,"s":0.565},{"g":"High","t":16,"s":0.55},{"g":"High","t":17,"s":0.535},{"g":"High","t":19,"s":0.515},{"g":"High","t":20,"s":0.50},{"g":"High","t":22,"s":0.47},{"g":"High","t":24,"s":0.45},{"g":"High","t":26,"s":0.435},{"g":"High","t":28,"s":0.42},{"g":"High","t":30,"s":0.39},{"g":"High","t":31,"s":0.365},{"g":"High","t":34,"s":0.355},{"g":"High","t":37,"s":0.345},{"g":"High","t":40,"s":0.335},{"g":"High","t":42,"s":0.32},{"g":"High","t":43,"s":0.31},{"g":"High","t":49,"s":0.275},{"g":"High","t":57,"s":0.255},{"g":"High","t":72,"s":0.215},{"g":"High","t":116,"s":0.215}
],
"fci":[
{"g":"Low","b":"u","t":0,"s":1},{"g":"Low","b":"u","t":3,"s":0.99},{"g":"Low","b":"u","t":6,"s":0.95},{"g":"Low","b":"u","t":9,"s":0.90},{"g":"Low","b":"u","t":12,"s":0.86},{"g":"Low","b":"u","t":15,"s":0.80},{"g":"Low","b":"u","t":18,"s":0.74},{"g":"Low","b":"u","t":22,"s":0.70},{"g":"Low","b":"u","t":27,"s":0.67},{"g":"Low","b":"u","t":33,"s":0.64},{"g":"Low","b":"u","t":37,"s":0.62},{"g":"Low","b":"u","t":42,"s":0.59},{"g":"Low","b":"u","t":46,"s":0.57},{"g":"Low","b":"u","t":57,"s":0.53},{"g":"Low","b":"u","t":60,"s":0.49},{"g":"Low","b":"u","t":69,"s":0.46},{"g":"Low","b":"u","t":124,"s":0.46},
{"g":"Low","b":"l","t":0,"s":1},{"g":"Low","b":"l","t":3,"s":0.91},{"g":"Low","b":"l","t":6,"s":0.81},{"g":"Low","b":"l","t":9,"s":0.74},{"g":"Low","b":"l","t":12,"s":0.68},{"g":"Low","b":"l","t":15,"s":0.62},{"g":"Low","b":"l","t":18,"s":0.55},{"g":"Low","b":"l","t":22,"s":0.51},{"g":"Low","b":"l","t":27,"s":0.47},{"g":"Low","b":"l","t":33,"s":0.44},{"g":"Low","b":"l","t":37,"s":0.41},{"g":"Low","b":"l","t":42,"s":0.38},{"g":"Low","b":"l","t":46,"s":0.35},{"g":"Low","b":"l","t":57,"s":0.31},{"g":"Low","b":"l","t":60,"s":0.24},{"g":"Low","b":"l","t":69,"s":0.165},{"g":"Low","b":"l","t":124,"s":0.165},
{"g":"High","b":"u","t":0,"s":1},{"g":"High","b":"u","t":3,"s":0.98},{"g":"High","b":"u","t":5,"s":0.94},{"g":"High","b":"u","t":7,"s":0.88},{"g":"High","b":"u","t":9,"s":0.80},{"g":"High","b":"u","t":11,"s":0.75},{"g":"High","b":"u","t":13,"s":0.71},{"g":"High","b":"u","t":16,"s":0.66},{"g":"High","b":"u","t":20,"s":0.62},{"g":"High","b":"u","t":24,"s":0.58},{"g":"High","b":"u","t":28,"s":0.55},{"g":"High","b":"u","t":31,"s":0.50},{"g":"High","b":"u","t":37,"s":0.48},{"g":"High","b":"u","t":43,"s":0.45},{"g":"High","b":"u","t":49,"s":0.41},{"g":"High","b":"u","t":57,"s":0.39},{"g":"High","b":"u","t":72,"s":0.35},{"g":"High","b":"u","t":123,"s":0.35},
{"g":"High","b":"l","t":0,"s":1},{"g":"High","b":"l","t":3,"s":0.89},{"g":"High","b":"l","t":5,"s":0.80},{"g":"High","b":"l","t":7,"s":0.69},{"g":"High","b":"l","t":9,"s":0.61},{"g":"High","b":"l","t":11,"s":0.55},{"g":"High","b":"l","t":13,"s":0.50},{"g":"High","b":"l","t":16,"s":0.46},{"g":"High","b":"l","t":20,"s":0.40},{"g":"High","b":"l","t":24,"s":0.37},{"g":"High","b":"l","t":28,"s":0.34},{"g":"High","b":"l","t":31,"s":0.30},{"g":"High","b":"l","t":37,"s":0.28},{"g":"High","b":"l","t":43,"s":0.26},{"g":"High","b":"l","t":49,"s":0.22},{"g":"High","b":"l","t":57,"s":0.19},{"g":"High","b":"l","t":72,"s":0.135},{"g":"High","b":"l","t":116,"s":0.135}
],
"fc":[
{"g":"Low","t":29,"s":0.57},{"g":"Low","t":31,"s":0.555},{"g":"Low","t":35,"s":0.52},{"g":"Low","t":38,"s":0.505},{"g":"Low","t":39,"s":0.505},{"g":"Low","t":47,"s":0.445},{"g":"Low","t":49,"s":0.445},{"g":"Low","t":52,"s":0.445},{"g":"Low","t":63,"s":0.33},{"g":"Low","t":66,"s":0.33},{"g":"Low","t":73,"s":0.27},{"g":"Low","t":77,"s":0.27},{"g":"Low","t":79,"s":0.27},{"g":"Low","t":109,"s":0.27},{"g":"Low","t":124,"s":0.27},
{"g":"High","t":21,"s":0.50},{"g":"High","t":22,"s":0.47},{"g":"High","t":24,"s":0.45},{"g":"High","t":25,"s":0.45},{"g":"High","t":27,"s":0.435},{"g":"High","t":33,"s":0.365},{"g":"High","t":36,"s":0.355},{"g":"High","t":38,"s":0.345},{"g":"High","t":56,"s":0.275},{"g":"High","t":66,"s":0.255},{"g":"High","t":68,"s":0.255},{"g":"High","t":69,"s":0.255},{"g":"High","t":78,"s":0.215},{"g":"High","t":82,"s":0.215},{"g":"High","t":84,"s":0.215},{"g":"High","t":116,"s":0.215}
]
},
"concat":[
{"width":210,"height":193,
"title":{"text":"A","anchor":"start","frame":"group","dx":-42,"offset":-20,"font":"Liberation Sans","fontSize":17,"fontWeight":"normal","color":"#222"},
"resolve":{"axis":{"x":"independent"}},
"layer":[
{"data":{"name":"a"},
"transform":[{"window":[{"op":"count","as":"one"}],"frame":[0,0]},{"bin":{"step":0.36,"anchor":0},"field":"v","as":"vb"},{"stack":"one","groupby":["g","vb"],"offset":"center","as":["s0","s1"]}],
"mark":{"type":"circle","size":15,"opacity":1},
"encoding":{
"x":{"field":"g","type":"nominal","scale":{"domain":["Normal","HCC"],"paddingInner":0,"paddingOuter":0},"axis":{"title":null,"labelAngle":0,"labelFont":"Liberation Serif","labelFontSize":14,"labelFontWeight":"bold","labelPadding":4,"domain":false,"tickColor":"#888","tickSize":5}},
"xOffset":{"field":"s0","type":"quantitative","scale":{"domain":[-1,25]}},
"y":{"field":"v","type":"quantitative","scale":{"domain":[-0.9,21.3],"nice":false,"zero":false},"axis":{"values":[0,5,10,15,20],"tickCount":12,"title":"AP003469.4 expression","titleFont":"Liberation Serif","titleFontSize":16,"titleFontWeight":"bold","titlePadding":3,"labelFont":"Liberation Serif","labelFontSize":14,"labelFontWeight":"bold","labelPadding":2,"domain":false,"tickColor":"#888","tickSize":4}},
"color":{"field":"g","type":"nominal","scale":{"domain":["Normal","HCC"],"range":["#0a0aff","#ff0000"]},"legend":null}}},
{"data":{"name":"aStat"},"transform":[{"filter":"datum.g == 'Normal'"}],"mark":{"type":"tick","size":30,"thickness":1.2,"color":"#777"},"encoding":{"x":{"field":"g","type":"nominal","axis":null},"y":{"field":"m","type":"quantitative"}}},
{"data":{"name":"aStat"},"transform":[{"filter":"datum.g == 'HCC'"}],"mark":{"type":"tick","size":50,"thickness":1.2,"color":"#777"},"encoding":{"x":{"field":"g","type":"nominal","axis":null},"y":{"field":"m","type":"quantitative"}}},
{"data":{"values":[{}]},"mark":{"type":"rule","color":"#555","strokeWidth":1},"encoding":{"x":{"datum":"Normal","type":"nominal","axis":{"orient":"top","title":"p=0","labels":false,"ticks":false,"domain":false,"titleFont":"Liberation Sans","titleFontSize":11,"titleFontWeight":"normal","titleColor":"#333","titlePadding":-17}},"x2":{"datum":"HCC"},"y":{"datum":18.6,"type":"quantitative"}}},
{"data":{"values":[{"g":"Normal"},{"g":"HCC"}]},"mark":{"type":"rule","color":"#555"},"encoding":{"x":{"field":"g","type":"nominal","axis":null},"y":{"datum":18.05,"type":"quantitative"},"y2":{"datum":18.6}}}
]},
{"width":210,"height":193,
"title":{"text":"B","anchor":"start","frame":"group","dx":-38,"offset":-16,"font":"Liberation Sans","fontSize":17,"fontWeight":"normal","color":"#222"},
"resolve":{"axis":{"x":"independent"}},
"layer":[
{"data":{"name":"b"},"mark":{"type":"line","color":"#000","strokeWidth":0.5},
"encoding":{
"x":{"field":"g","type":"nominal","scale":{"domain":["Normal","HCC"],"paddingInner":0,"paddingOuter":0},"axis":{"title":null,"labelAngle":0,"labelFont":"Liberation Serif","labelFontSize":14,"labelFontWeight":"bold","labelPadding":4,"domain":false,"tickColor":"#888","tickSize":5}},
"y":{"field":"v","type":"quantitative","scale":{"domain":[-0.35,8.97],"nice":false,"zero":false},"axis":{"values":[0,2,4,6,8],"tickCount":12,"title":"AP003469.4 expression","titleFont":"Liberation Serif","titleFontSize":16,"titleFontWeight":"bold","titlePadding":3,"labelFont":"Liberation Serif","labelFontSize":14,"labelFontWeight":"bold","labelPadding":2,"domain":false,"tickColor":"#888","tickSize":4}},
"detail":{"field":"id","type":"nominal"}}},
{"data":{"name":"b"},"mark":{"type":"circle","size":12,"opacity":1},
"encoding":{"x":{"field":"g","type":"nominal","axis":null},"y":{"field":"v","type":"quantitative"},"color":{"field":"g","type":"nominal","scale":{"domain":["Normal","HCC"],"range":["#11dd11","#ff1010"]},"legend":null}}},
{"data":{"values":[{}]},"mark":{"type":"rule","color":"#555","strokeWidth":1},"encoding":{"x":{"datum":"Normal","type":"nominal","axis":{"orient":"top","title":"p = 1.232e\u221210","labels":false,"ticks":false,"domain":false,"titleFont":"Liberation Sans","titleFontSize":11,"titleFontWeight":"normal","titleColor":"#333","titlePadding":-20}},"x2":{"datum":"HCC"},"y":{"datum":7.8,"type":"quantitative"}}},
{"data":{"values":[{"g":"Normal"},{"g":"HCC"}]},"mark":{"type":"rule","color":"#555"},"encoding":{"x":{"field":"g","type":"nominal","axis":null},"y":{"datum":7.66,"type":"quantitative"},"y2":{"datum":7.94}}}
]},
{"width":170,"height":193,"view":{"stroke":null},
"title":{"text":"C","anchor":"start","frame":"group","dx":-37,"offset":-20,"font":"Liberation Sans","fontSize":17,"fontWeight":"normal","color":"#222"},
"layer":[
{"data":{"name":"cref"},"mark":{"type":"line","strokeWidth":1.5},
"encoding":{
"x":{"field":"x","type":"quantitative","scale":{"domain":[0,100],"nice":false,"zero":false},"axis":{"values":[0,20,40,60,80,100],"tickCount":12,"title":"100% - Specificity%","titleFont":"Liberation Serif","titleFontSize":15,"titleFontWeight":"bold","titlePadding":2,"labelFont":"Liberation Serif","labelFontSize":12,"labelFontWeight":"bold","labelFlush":false,"domainColor":"#000","domainWidth":1.5,"tickColor":"#000","tickWidth":1.5,"tickSize":5}},
"y":{"field":"y","type":"quantitative","scale":{"domain":[0,128.7],"nice":false,"zero":false},"axis":{"values":[0,20,40,60,80,100],"tickCount":12,"title":"Sensitivity %","titleFont":"Liberation Serif","titleFontSize":15,"titleFontWeight":"bold","titlePadding":3,"labelFont":"Liberation Serif","labelFontSize":12,"labelFontWeight":"bold","domain":false,"tickColor":"#000","tickWidth":1.5,"tickSize":5}},
"color":{"field":"s","type":"nominal","scale":{"domain":["AP003469.4","Reference line"],"range":["#1b2a8c","#e8141c"]},"legend":{"orient":"bottom-right","offset":0,"title":null,"labelFont":"Liberation Serif","labelFontSize":11.5,"labelFontWeight":"bold","labelColor":"#000","symbolSize":40,"rowPadding":1}}}},
{"data":{"name":"cref"},"mark":{"type":"point","filled":true,"size":14,"opacity":1},
"encoding":{"x":{"field":"x","type":"quantitative"},"y":{"field":"y","type":"quantitative"},"color":{"field":"s","type":"nominal"},"shape":{"field":"s","type":"nominal","scale":{"domain":["AP003469.4","Reference line"],"range":["circle","square"]}}}},
{"data":{"name":"croc"},"transform":[{"window":[{"op":"row_number","as":"i"}]}],"mark":{"type":"line","strokeWidth":1.8},
"encoding":{"x":{"field":"x","type":"quantitative"},"y":{"field":"y","type":"quantitative"},"order":{"field":"i","type":"quantitative"},"color":{"field":"s","type":"nominal"}}},
{"data":{"name":"croc"},"mark":{"type":"point","filled":true,"size":16,"opacity":1},
"encoding":{"x":{"field":"x","type":"quantitative"},"y":{"field":"y","type":"quantitative"},"color":{"field":"s","type":"nominal"},"shape":{"field":"s","type":"nominal"}}},
{"data":{"values":[{}]},"mark":{"type":"rule","color":"#000","strokeWidth":1.5},"encoding":{"x":{"datum":0,"type":"quantitative"},"y":{"datum":0,"type":"quantitative"},"y2":{"datum":100}}},
{"data":{"values":[{}]},"mark":{"type":"text","text":["P < 0.0001","AUC=0.9048"],"align":"left","baseline":"top","font":"Liberation Serif","fontSize":11.5,"fontWeight":"bold","lineHeight":12,"color":"#000"},"encoding":{"x":{"datum":54,"type":"quantitative"},"y":{"datum":34.5,"type":"quantitative"}}}
]},
{"width":195,"height":168,
"title":{"text":"D","anchor":"start","frame":"group","dx":-40,"offset":-20,"font":"Liberation Sans","fontSize":17,"fontWeight":"normal","color":"#222"},
"resolve":{"axis":{"x":"independent"}},
"layer":[
{"data":{"name":"d"},"mark":{"type":"line","interpolate":"step-after","strokeWidth":1.3},
"encoding":{
"x":{"field":"t","type":"quantitative","scale":{"domain":[-5,126.3],"nice":false,"zero":false},"axis":{"values":[0,24,48,72,96,120],"tickCount":12,"title":"Months","titleFont":"Liberation Serif","titleFontSize":14,"titleFontWeight":"bold","titlePadding":1,"labelFont":"Liberation Serif","labelFontSize":12,"labelFontWeight":"bold","labelPadding":1,"labelFlush":false,"domain":false,"tickColor":"#777","tickSize":4}},
"y":{"field":"s","type":"quantitative","scale":{"domain":[-0.049,1.128],"nice":false,"zero":false},"axis":{"values":[0,0.2,0.4,0.6,0.8,1],"tickCount":12,"format":".1f","labelAngle":270,"title":"Overall survival","titleFont":"Liberation Serif","titleFontSize":17,"titleFontWeight":"bold","titlePadding":2,"labelFont":"Liberation Serif","labelFontSize":12,"labelFontWeight":"bold","domain":false,"tickColor":"#777","tickSize":5}},
"color":{"field":"g","type":"nominal","scale":{"domain":["Low","High"],"range":["#2a2ad8","#e03030"]},"legend":{"orient":"top-right","offset":4,"title":null,"symbolType":"M-2.5,0H2.5","symbolSize":16,"symbolStrokeWidth":1.3,"labelFont":"Liberation Sans","labelFontSize":6,"labelColor":"#222","rowPadding":0,"labelOffset":6,"labelExpr":"datum.label + ' expression'"}}}},
{"data":{"name":"dc"},"mark":{"type":"point","shape":"M0,-1V1M-1,0H1","filled":false,"size":30,"strokeWidth":0.8,"opacity":1},
"encoding":{"x":{"field":"t","type":"quantitative","axis":{"orient":"top","title":"AP003469.4 (P=1.188e-02)","labels":false,"ticks":false,"domain":false,"titleFont":"Liberation Serif","titleFontSize":13,"titleFontWeight":"bold","titlePadding":2}},"y":{"field":"s","type":"quantitative"},"color":{"field":"g","type":"nominal"}}}
]},
{"width":207,"height":167,
"title":{"text":"E","anchor":"start","frame":"group","dx":-38,"offset":0,"font":"Liberation Sans","fontSize":17,"fontWeight":"normal","color":"#222"},
"layer":[
{"data":{"name":"e"},"mark":{"type":"line","interpolate":"step-after","strokeWidth":1.3},
"encoding":{
"x":{"field":"t","type":"quantitative","scale":{"domain":[-0.4,127.4],"nice":false,"zero":false},"axis":{"values":[0,20,40,60,80,100,120],"tickCount":12,"title":"Months","titleFont":"Liberation Serif","titleFontSize":14,"titleFontWeight":"bold","titlePadding":1,"labelFont":"Liberation Serif","labelFontSize":12,"labelFontWeight":"bold","labelPadding":1,"labelFlush":false,"domain":false,"tickColor":"#777","tickSize":4}},
"y":{"field":"s","type":"quantitative","scale":{"domain":[-0.039,1.043],"nice":false,"zero":false},"axis":{"values":[0,0.2,0.4,0.6,0.8,1],"tickCount":12,"format":".1f","labelAngle":270,"title":"Overall survival","titleFont":"Liberation Serif","titleFontSize":17,"titleFontWeight":"bold","titlePadding":2,"labelFont":"Liberation Serif","labelFontSize":12,"labelFontWeight":"bold","domain":false,"tickColor":"#777","tickSize":5}},
"color":{"field":"g","type":"nominal","scale":{"domain":["Low","High"],"range":["#2222cc","#d42424"]},"legend":{"orient":"top-right","offset":2,"title":null,"symbolType":"M-4.2,0H4.2","symbolSize":16,"symbolStrokeWidth":1.5,"labelFont":"Liberation Sans","labelFontSize":8.5,"labelColor":"#222","rowPadding":-6,"labelOffset":10,"labelExpr":"datum.label + ' KB-1460A1.5 TPM'"}}}},
{"data":{"name":"eci"},"mark":{"type":"line","interpolate":"step-after","strokeDash":[1.2,1.6],"strokeWidth":0.8,"opacity":0.55},
"encoding":{"x":{"field":"t","type":"quantitative"},"y":{"field":"s","type":"quantitative"},"color":{"field":"g","type":"nominal"},"detail":{"field":"b","type":"nominal"}}},
{"data":{"name":"ec"},"mark":{"type":"point","shape":"M0,-1V1M-1,0H1","filled":false,"size":30,"strokeWidth":0.8,"opacity":1},
"encoding":{"x":{"field":"t","type":"quantitative"},"y":{"field":"s","type":"quantitative"},"color":{"field":"g","type":"nominal"}}},
{"data":{"values":[{}]},"mark":{"type":"text","text":["Logrank p=0.0023","HR(high)=1.7","p(HR)=0.0027","n(high)=182","n(low)=182"],"align":"right","baseline":"top","font":"Liberation Sans","fontSize":8.5,"lineHeight":8.7,"color":"#222"},"encoding":{"x":{"datum":125.8,"type":"quantitative"},"y":{"datum":0.902,"type":"quantitative"}}}
]},
{"width":207,"height":167,
"title":{"text":"F","anchor":"start","frame":"group","dx":-37,"offset":0,"font":"Liberation Sans","fontSize":17,"fontWeight":"normal","color":"#222"},
"layer":[
{"data":{"name":"f"},"mark":{"type":"line","interpolate":"step-after","strokeWidth":1.3},
"encoding":{
"x":{"field":"t","type":"quantitative","scale":{"domain":[-0.4,127.4],"nice":false,"zero":false},"axis":{"values":[0,20,40,60,80,100,120],"tickCount":12,"title":"Months","titleFont":"Liberation Serif","titleFontSize":14,"titleFontWeight":"bold","titlePadding":1,"labelFont":"Liberation Serif","labelFontSize":12,"labelFontWeight":"bold","labelPadding":1,"labelFlush":false,"domain":false,"tickColor":"#777","tickSize":4}},
"y":{"field":"s","type":"quantitative","scale":{"domain":[-0.039,1.043],"nice":false,"zero":false},"axis":{"values":[0,0.2,0.4,0.6,0.8,1],"tickCount":12,"format":".1f","labelAngle":270,"title":"Disease Free survival","titleFont":"Liberation Serif","titleFontSize":17,"titleFontWeight":"bold","titlePadding":2,"labelFont":"Liberation Serif","labelFontSize":12,"labelFontWeight":"bold","domain":false,"tickColor":"#777","tickSize":5}},
"color":{"field":"g","type":"nominal","scale":{"domain":["Low","High"],"range":["#2222cc","#d42424"]},"legend":{"orient":"top-right","offset":2,"title":null,"symbolType":"M-4.2,0H4.2","symbolSize":16,"symbolStrokeWidth":1.5,"labelFont":"Liberation Sans","labelFontSize":8.5,"labelColor":"#222","rowPadding":-6,"labelOffset":10,"labelExpr":"datum.label + ' KB-1460A1.5 TPM'"}}}},
{"data":{"name":"fci"},"mark":{"type":"line","interpolate":"step-after","strokeDash":[1.2,1.6],"strokeWidth":0.8,"opacity":0.55},
"encoding":{"x":{"field":"t","type":"quantitative"},"y":{"field":"s","type":"quantitative"},"color":{"field":"g","type":"nominal"},"detail":{"field":"b","type":"nominal"}}},
{"data":{"name":"fc"},"mark":{"type":"point","shape":"M0,-1V1M-1,0H1","filled":false,"size":30,"strokeWidth":0.8,"opacity":1},
"encoding":{"x":{"field":"t","type":"quantitative"},"y":{"field":"s","type":"quantitative"},"color":{"field":"g","type":"nominal"}}},
{"data":{"values":[{}]},"mark":{"type":"text","text":["Logrank p=0.008","HR(high)=1.5","p(HR)=0.0083","n(high)=182","n(low)=182"],"align":"right","baseline":"top","font":"Liberation Sans","fontSize":8.5,"lineHeight":8.7,"color":"#222"},"encoding":{"x":{"datum":125.1,"type":"quantitative"},"y":{"datum":0.902,"type":"quantitative"}}}
]}
]
}
